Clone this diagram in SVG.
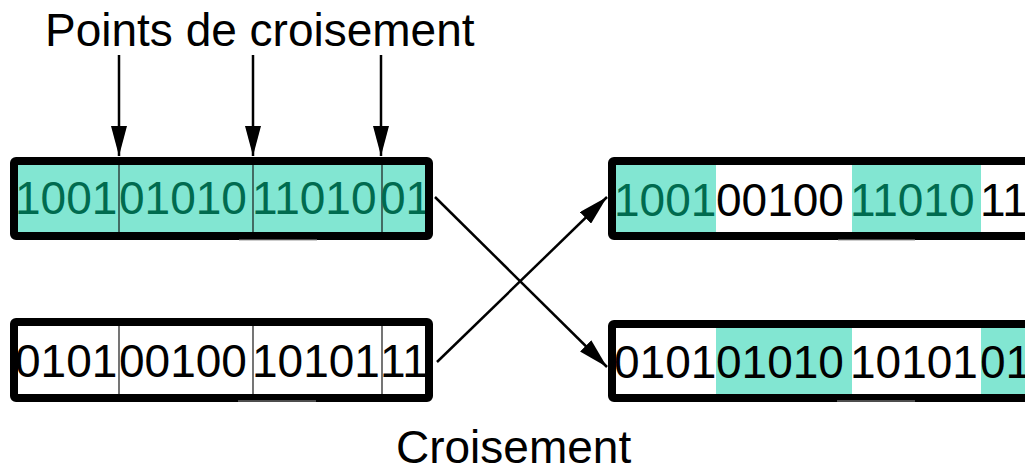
<svg xmlns="http://www.w3.org/2000/svg" width="1025" height="471" viewBox="0 0 1025 471">
<style>
.bits{font-family:"Liberation Sans",Arial,sans-serif;font-size:46px;}
.lbl{font-family:"Liberation Sans",Arial,sans-serif;font-size:46px;fill:#000;}
.g{fill:#006b4f;}
.k{fill:#000;}
.hl{fill:#82e6d2;}
.frame{fill:none;stroke:#000;stroke-width:8;}
.div{stroke:#1a1a1a;stroke-width:1.2;}
.edge{stroke:#000;stroke-width:2.5;fill:none;marker-end:url(#ah);}
.sh{stroke:#999;stroke-width:1.2;}
</style>
<defs>
<marker id="ah" viewBox="0 0 30 16" refX="30" refY="8" markerWidth="30" markerHeight="16" markerUnits="userSpaceOnUse" orient="auto">
<path d="M0,0 L30,8 L0,16 Z" fill="#000"/>
</marker>
</defs>
<rect width="1025" height="471" fill="#fff"/>

<text class="lbl" x="45" y="46" font-size="47">Points de croisement</text>
<text class="lbl" x="396" y="463" font-size="45">Croisement</text>

<g id="parent1">
<rect class="hl" x="16" y="163" width="413" height="72"/>
<line class="div" x1="119" y1="163" x2="119" y2="235"/>
<line class="div" x1="253" y1="163" x2="253" y2="235"/>
<line class="div" x1="382" y1="163" x2="382" y2="235"/>
<text class="bits g" x="15" y="214">1001</text>
<text class="bits g" x="119" y="214">01010</text>
<text class="bits g" x="252" y="214">11010</text>
<text class="bits g" x="380" y="214">01</text>
<rect class="frame" x="14" y="161" width="415" height="75" rx="2"/>
<line class="sh" x1="239" y1="240" x2="317" y2="240"/>
</g>

<g id="parent2">
<rect x="16" y="324" width="413" height="72" fill="#fff"/>
<line class="div" x1="119" y1="324" x2="119" y2="396"/>
<line class="div" x1="253" y1="324" x2="253" y2="396"/>
<line class="div" x1="382" y1="324" x2="382" y2="396"/>
<text class="bits k" x="15" y="377">0101</text>
<text class="bits k" x="119" y="377">00100</text>
<text class="bits k" x="252" y="377">10101</text>
<text class="bits k" x="380" y="377">11</text>
<rect class="frame" x="14" y="322" width="415" height="76" rx="2"/>
<line class="sh" x1="238" y1="401" x2="316" y2="401"/>
</g>

<g id="child1">
<rect class="hl" x="616" y="164" width="100" height="71"/>
<rect class="hl" x="852" y="164" width="129" height="71"/>
<text class="bits g" x="614" y="216">1001</text>
<text class="bits k" x="716" y="216">00100</text>
<text class="bits g" x="850" y="216">11010</text>
<text class="bits k" x="980" y="216">11</text>
<rect class="frame" x="612" y="161" width="500" height="75" rx="2"/>
<line class="sh" x1="838" y1="240" x2="915" y2="240"/>
</g>

<g id="child2">
<rect class="hl" x="716" y="326" width="136" height="70"/>
<rect class="hl" x="981" y="326" width="60" height="70"/>
<text class="bits k" x="614" y="378">0101</text>
<text class="bits k" x="716" y="378">01010</text>
<text class="bits k" x="850" y="378">10101</text>
<text class="bits k" x="980" y="378">01</text>
<rect class="frame" x="612" y="324" width="500" height="74" rx="2"/>
<line class="sh" x1="837" y1="401" x2="915" y2="401"/>
</g>

<g id="connectors">
<line class="edge" x1="119" y1="55" x2="119" y2="156"/>
<line class="edge" x1="253" y1="55" x2="253" y2="156"/>
<line class="edge" x1="381" y1="55" x2="381" y2="156"/>
<line class="edge" x1="435" y1="197" x2="607" y2="367"/>
<line class="edge" x1="437" y1="362" x2="607" y2="197"/>
</g>
</svg>
